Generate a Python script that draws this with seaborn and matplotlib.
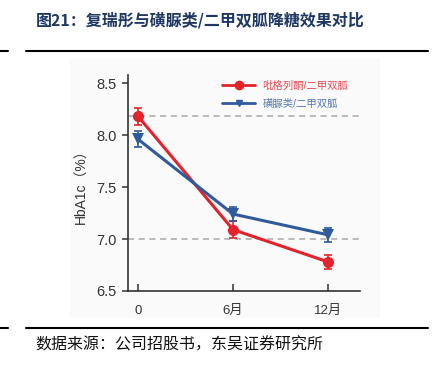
import numpy as np
import pandas as pd
import seaborn as sns
import matplotlib.pyplot as plt
from matplotlib.patches import Rectangle
from matplotlib.lines import Line2D

months = [0, 6, 12]
month_labels = ["0", "6月", "12月"]
series_names = ["吡格列酮/二甲双胍", "磺脲类/二甲双胍"]
pio_values = [8.18, 7.09, 6.78]
pio_err = [0.08, 0.08, 0.07]
su_values = [7.96, 7.24, 7.04]
su_err = [0.08, 0.07, 0.07]
ref_lines = [8.18, 7.0]

title = "图21：复瑞彤与磺脲类/二甲双胍降糖效果对比"
source = "数据来源：公司招股书，东吴证券研究所"

red = "#e3222b"
blue = "#2f5b9c"

df = pd.DataFrame({
    "month": months * 2,
    "hba1c": pio_values + su_values,
    "err": pio_err + su_err,
    "group": [series_names[0]] * 3 + [series_names[1]] * 3,
})

sns.set_style("ticks")
plt.rcParams["font.family"] = ["Liberation Sans", "Noto Sans CJK SC", "DejaVu Sans"]

fig = plt.figure(figsize=(4.37, 3.66), dpi=100)
# faint background of the embedded picture
bg = Rectangle((70 / 437, 1 - 318 / 366), 310 / 437, 260 / 366,
               transform=fig.transFigure, facecolor="#fafafb",
               edgecolor="none", zorder=-5)
fig.add_artist(bg)
ax = fig.add_axes([128 / 437, 1 - 291 / 366, 232 / 437, 216 / 366])
ax.set_facecolor("none")

palette = {series_names[0]: red, series_names[1]: blue}
markers = {series_names[0]: "o", series_names[1]: "v"}
sns.lineplot(data=df, x="month", y="hba1c", hue="group", style="group",
             palette=palette, markers=markers, dashes=False, linewidth=2.2,
             markersize=8, markeredgewidth=0, ax=ax, legend=False, zorder=3)
for name, sub in df.groupby("group"):
    ax.errorbar(sub["month"], sub["hba1c"], yerr=sub["err"], fmt="none",
                ecolor=palette[name], elinewidth=1.2, capsize=3, capthick=1.2,
                zorder=3)

for v in ref_lines:
    ax.axhline(v, color="#a8a8a8", linestyle=(0, (4, 3)), linewidth=1.1, zorder=1)

ax.set_xlim(-0.63, 14.02)
ax.set_ylim(6.5, 8.577)
ax.set_xticks(months)
ax.set_xticklabels(month_labels)
ax.set_yticks([6.5, 7.0, 7.5, 8.0, 8.5])
ax.tick_params(axis="x", direction="in", length=5, width=1.1, colors="#333333",
               labelsize=9.5, pad=10)
ax.tick_params(axis="y", direction="out", length=4, width=1.1, colors="#333333",
               labelsize=10.5, pad=4)
ax.set_xlabel("")
ax.set_ylabel("HbA1c（%）", fontsize=10, color="#333333", labelpad=6)
sns.despine(ax=ax)
for s in ["left", "bottom"]:
    ax.spines[s].set_color("#333333")
    ax.spines[s].set_linewidth(1.2)

handles = [Line2D([], [], color=red, marker="o", lw=2, markersize=6),
           Line2D([], [], color=blue, marker="v", lw=2, markersize=5)]
leg = ax.legend(handles, series_names, loc="upper left",
                bbox_to_anchor=((222 - 128) / 232, 0.975),
                frameon=False, fontsize=7.5, handlelength=3.2, handletextpad=0.7,
                labelspacing=0.75, borderpad=0, borderaxespad=0)
for t, c in zip(leg.get_texts(), [red, blue]):
    t.set_color(c)
    t.set_alpha(0.8)

fig.text(36 / 437, 1 - 20 / 366, title, fontsize=11.5, fontweight="bold",
         color="#1f3763", va="center", family=["Noto Sans CJK SC"])
fig.text(35 / 437, 1 - 345 / 366, source, fontsize=11.5, color="#111111",
         va="center", family=["Noto Sans CJK SC"])
for y in [51, 328]:
    fig.add_artist(Line2D([0, 8 / 437], [1 - y / 366] * 2, color="black", lw=1.5))
    fig.add_artist(Line2D([26 / 437, 428 / 437], [1 - y / 366] * 2, color="black", lw=1.5))

fig.savefig("out.png", dpi=100)
